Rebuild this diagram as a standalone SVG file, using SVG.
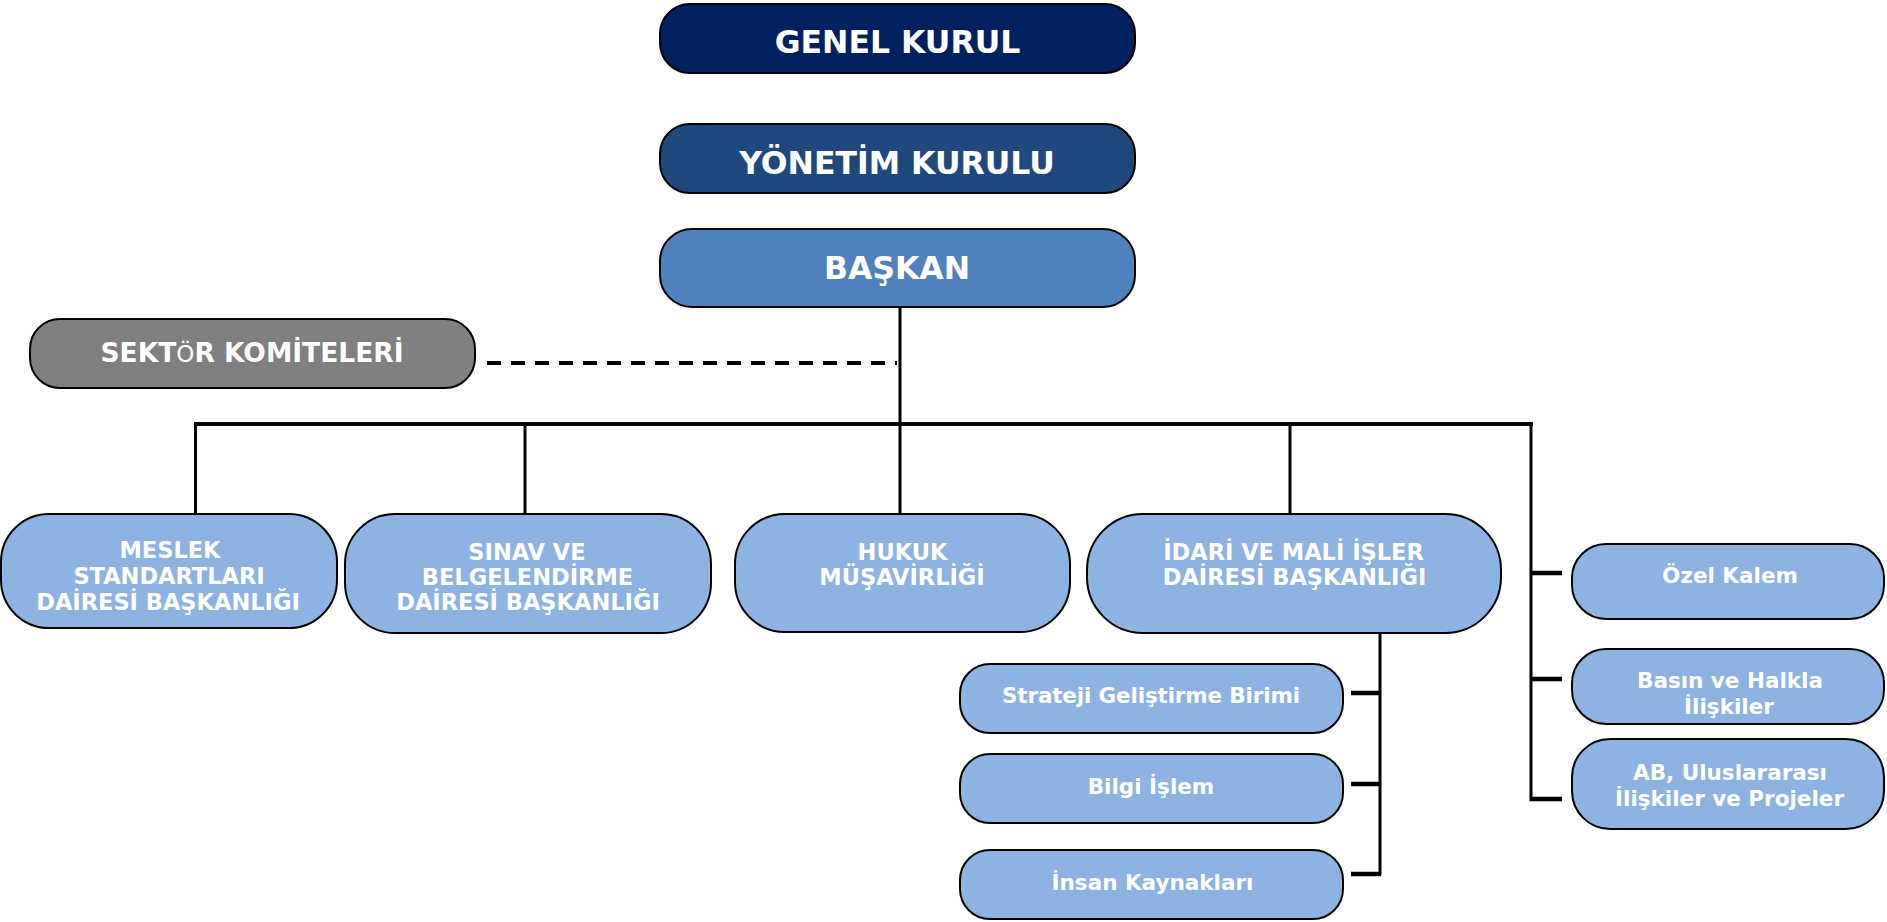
<svg xmlns="http://www.w3.org/2000/svg" width="1887" height="922" viewBox="0 0 1887 922">
<style>
.box{stroke:#000;stroke-width:2}
.t{font-family:"DejaVu Sans","Liberation Sans",sans-serif;font-weight:bold;fill:#fff;text-anchor:middle}
.big{font-size:31.5px}
.sm{font-size:22.5px}
.lc{font-size:21.5px}
.ln{stroke:#000;fill:none;stroke-linecap:butt}
</style>
<rect width="1887" height="922" fill="#fff"/>
<g id="connectors">
<line class="ln" x1="900" y1="307" x2="900" y2="514" stroke-width="3"/>
<line class="ln" x1="487" y1="363" x2="897" y2="363" stroke-width="4" stroke-dasharray="14,10"/>
<line class="ln" x1="194" y1="424" x2="1533" y2="424" stroke-width="4"/>
<line class="ln" x1="195.5" y1="424" x2="195.5" y2="514" stroke-width="3"/>
<line class="ln" x1="525" y1="424" x2="525" y2="514" stroke-width="3"/>
<line class="ln" x1="1290" y1="424" x2="1290" y2="514" stroke-width="3"/>
<line class="ln" x1="1531" y1="422" x2="1531" y2="801" stroke-width="3"/>
<line class="ln" x1="1530" y1="573" x2="1562" y2="573" stroke-width="4.5"/>
<line class="ln" x1="1530" y1="679" x2="1562" y2="679" stroke-width="4.5"/>
<line class="ln" x1="1530" y1="799" x2="1562" y2="799" stroke-width="4.5"/>
<line class="ln" x1="1380" y1="633" x2="1380" y2="875" stroke-width="3"/>
<line class="ln" x1="1351" y1="693" x2="1381" y2="693" stroke-width="4.5"/>
<line class="ln" x1="1351" y1="784" x2="1381" y2="784" stroke-width="4.5"/>
<line class="ln" x1="1351" y1="874" x2="1381" y2="874" stroke-width="4.5"/>
</g>
<g id="genel-kurul">
<rect class="box" x="660" y="4" width="475" height="69" rx="30" ry="30" fill="#002060"/>
<text class="t big" x="897.5" y="53">GENEL KURUL</text>
</g>
<g id="yonetim-kurulu">
<rect class="box" x="660" y="124" width="475" height="69" rx="30" ry="30" fill="#1F497D"/>
<text class="t big" x="897" y="174">YÖNETİM KURULU</text>
</g>
<g id="baskan">
<rect class="box" x="660" y="229" width="475" height="78" rx="32" ry="32" fill="#4F81BD"/>
<text class="t big" x="897" y="279">BAŞKAN</text>
</g>
<g id="sektor-komiteleri">
<rect class="box" x="30" y="319" width="445" height="69" rx="30" ry="30" fill="#808080"/>
<text class="t" x="252" y="362" font-size="26.5">SEKT<tspan font-size="23" font-weight="normal">Ö</tspan>R KOMİTELERİ</text>
</g>
<g id="meslek">
<rect class="box" x="1" y="514" width="336" height="114" rx="48" ry="48" fill="#8DB3E2"/>
<text class="t sm" x="170" y="558">MESLEK</text>
<text class="t sm" x="169" y="584">STANDARTLARI</text>
<text class="t sm" x="168" y="610">DAİRESİ BAŞKANLIĞI</text>
</g>
<g id="sinav">
<rect class="box" x="345" y="514" width="366" height="119" rx="50" ry="50" fill="#8DB3E2"/>
<text class="t sm" x="527" y="560">SINAV VE</text>
<text class="t sm" x="527.5" y="585">BELGELENDİRME</text>
<text class="t sm" x="528" y="610">DAİRESİ BAŞKANLIĞI</text>
</g>
<g id="hukuk">
<rect class="box" x="735" y="514" width="335" height="118" rx="50" ry="50" fill="#8DB3E2"/>
<text class="t sm" x="902.5" y="560">HUKUK</text>
<text class="t sm" x="902" y="585">MÜŞAVİRLİĞİ</text>
</g>
<g id="idari">
<rect class="box" x="1087" y="514" width="414" height="119" rx="56" ry="56" fill="#8DB3E2"/>
<text class="t sm" x="1293.5" y="560">İDARİ VE MALİ İŞLER</text>
<text class="t sm" x="1294.5" y="585">DAİRESİ BAŞKANLIĞI</text>
</g>
<g id="ozel-kalem">
<rect class="box" x="1572" y="544" width="312" height="75" rx="34" ry="34" fill="#8DB3E2"/>
<text class="t lc" x="1730" y="583">Özel Kalem</text>
</g>
<g id="basin">
<rect class="box" x="1572" y="649" width="312" height="75" rx="34" ry="34" fill="#8DB3E2"/>
<text class="t lc" x="1730" y="688">Basın ve Halkla</text>
<text class="t lc" x="1729" y="714">İlişkiler</text>
</g>
<g id="ab">
<rect class="box" x="1572" y="739" width="312" height="90" rx="38" ry="38" fill="#8DB3E2"/>
<text class="t lc" x="1730" y="780">AB, Uluslararası</text>
<text class="t lc" x="1729.5" y="806">İlişkiler ve Projeler</text>
</g>
<g id="strateji">
<rect class="box" x="960" y="664" width="383" height="69" rx="30" ry="30" fill="#8DB3E2"/>
<text class="t lc" x="1151" y="703" textLength="298">Strateji Geliştirme Birimi</text>
</g>
<g id="bilgi-islem">
<rect class="box" x="960" y="754" width="383" height="69" rx="30" ry="30" fill="#8DB3E2"/>
<text class="t lc" x="1151" y="794">Bilgi İşlem</text>
</g>
<g id="insan-kaynaklari">
<rect class="box" x="960" y="850" width="383" height="69" rx="30" ry="30" fill="#8DB3E2"/>
<text class="t lc" x="1152.5" y="890">İnsan Kaynakları</text>
</g>
</svg>
